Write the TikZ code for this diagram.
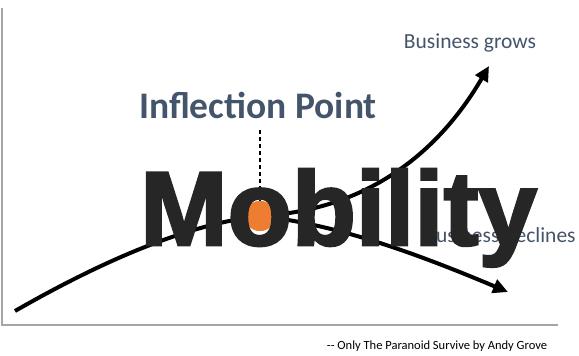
\documentclass[tikz,border=0pt]{standalone}
\usepackage{fontspec}
\setmainfont{Carlito}
\newfontfamily\bigfont[BoldFont={Liberation Sans Bold}, BoldFeatures={FakeBold=2.5}]{Liberation Sans}
\usepackage{tikz}
\usetikzlibrary{positioning}
\usetikzlibrary{shapes,arrows.meta}
\definecolor{slate}{HTML}{44546A}
\definecolor{orangedot}{HTML}{ED7D31}
\definecolor{axisgray}{HTML}{A6A6A6}
\definecolor{darkword}{HTML}{262626}
\tikzstyle{axis} = [draw, axisgray, line width=1.5pt]
\tikzstyle{curve} = [draw, line width=4pt]
\tikzstyle{arrowcurve} = [curve, -{Triangle[length=15pt,width=14pt]}]
\tikzstyle{label} = [text=slate, inner sep=0pt]

\begin{document}
\begin{tikzpicture}[x=1pt, y=-1pt]
            \useasboundingbox (0,0) rectangle (579,356);
            % axes
            \coordinate (ytop) at (2,8);
            \coordinate (origin) at (2,325);
            \coordinate (xend) at (558,325);
            \path[axis] (ytop) -- (origin) -- (xend);
            % curves
            \coordinate (start) at (15,311);
            \coordinate (grow) at (489,66);
            \coordinate (decline) at (508,292);
            \node[circle, fill=orangedot, minimum size=30pt, inner sep=0pt](dot) at (260,216){};
            \path[curve] (start) .. controls (90,268) and (180,225) .. (dot.center);
            \path[arrowcurve] (dot.center) .. controls (370,210) and (440,150) .. (grow);
            \path[arrowcurve] (dot.center) .. controls (340,225) and (420,255) .. (decline);
            \node[circle, fill=orangedot, minimum size=30pt, inner sep=0pt] at (dot){};
            % labels
            \node[label, anchor=base, font=\fontsize{37.5}{40}\selectfont\bfseries](inflection) at (258,118){Inflection Point};
            \node[label, anchor=base, font=\fontsize{21.5}{24}\selectfont](grows) at (470,48){Business grows};
            \node[label, anchor=base, font=\fontsize{21.5}{24}\selectfont](declines) at (500,242){Business declines};
            \draw[dashed, dash pattern=on 4pt off 3pt, line width=1.2pt] ([yshift=-12pt]inflection.south -| dot) -- (dot.north);
            \node[anchor=base west, inner sep=0pt, text=darkword, font=\fontsize{105}{110}\bigfont\bfseries](mobility) at (140,245){Mobility};
            \node[anchor=base, inner sep=0pt, font=\fontsize{12.5}{14}\selectfont](quote) at (437,349){-{}- Only The Paranoid Survive by Andy Grove};
        \end{tikzpicture}
\end{document}
